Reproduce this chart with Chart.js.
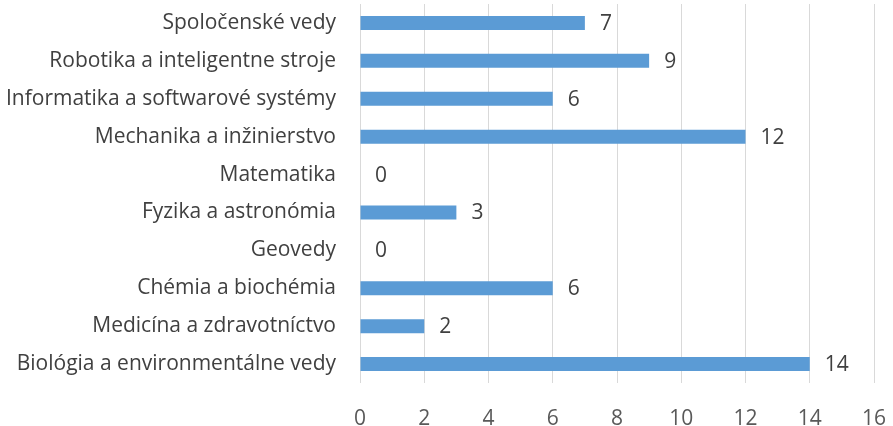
<!DOCTYPE html>
<html>
<head>
<meta charset="utf-8">
<script src="https://cdn.jsdelivr.net/npm/chart.js@4/dist/chart.umd.min.js"></script>
<style>
  html, body { margin: 0; padding: 0; background: #fff; }
  #wrap { width: 893px; height: 426px; }
</style>
</head>
<body>
<div id="wrap"><canvas id="barChart" width="893" height="426"></canvas></div>
<script>
const categories = [
    "Spoločenské vedy",
    "Robotika a inteligentne stroje",
    "Informatika a softwarové systémy",
    "Mechanika a inžinierstvo",
    "Matematika",
    "Fyzika a astronómia",
    "Geovedy",
    "Chémia a biochémia",
    "Medicína a zdravotníctvo",
    "Biológia a environmentálne vedy"
];
const counts = [7, 9, 6, 12, 0, 3, 0, 6, 2, 14];
const xTicks = [0, 2, 4, 6, 8, 10, 12, 14, 16];

const fontFamily = "'Open Sans', 'Noto Sans', sans-serif";
const fontSize = 21;

// draw value labels right of each bar
const valueLabels = {
    id: "valueLabels",
    afterDatasetsDraw(chart) {
        const ctx = chart.ctx;
        const meta = chart.getDatasetMeta(0);
        ctx.save();
        ctx.font = fontSize + "px " + fontFamily;
        ctx.fillStyle = "#404040";
        ctx.textAlign = "left";
        ctx.textBaseline = "middle";
        meta.data.forEach((bar, i) => {
            ctx.fillText(String(counts[i]), bar.x + 15, bar.y + 1);
        });
        ctx.restore();
    }
};

const ctx = document.getElementById("barChart").getContext("2d");
new Chart(ctx, {
    type: "bar",
    data: {
        labels: categories,
        datasets: [{
            data: counts,
            backgroundColor: "#5B9BD5",
            borderWidth: 0,
            categoryPercentage: 1,
            barPercentage: 0.37
        }]
    },
    options: {
        indexAxis: "y",
        responsive: false,
        animation: false,
        layout: { padding: { top: 4, right: 19, left: 0, bottom: 0 } },
        scales: {
            x: {
                min: 0,
                max: 16,
                afterBuildTicks: scale => { scale.ticks = xTicks.map(v => ({ value: v })); },
                grid: { color: "#d9d9d9", lineWidth: 1, drawTicks: false },
                border: { display: false },
                ticks: { color: "#595959", font: { family: fontFamily, size: fontSize }, padding: 23 },
                afterFit: scale => {
                    scale.height = 43;
                    scale.paddingLeft = 0;
                    scale.paddingRight = 0;
                }
            },
            y: {
                grid: { display: false, drawTicks: false },
                border: { display: false },
                ticks: { color: "#404040", font: { family: fontFamily, size: fontSize }, padding: 24 },
                afterFit: scale => {
                    scale.width = 360;
                    scale.paddingTop = 0;
                    scale.paddingBottom = 0;
                }
            }
        },
        plugins: {
            legend: { display: false },
            tooltip: { enabled: false }
        }
    },
    plugins: [valueLabels]
});
</script>
</body>
</html>
